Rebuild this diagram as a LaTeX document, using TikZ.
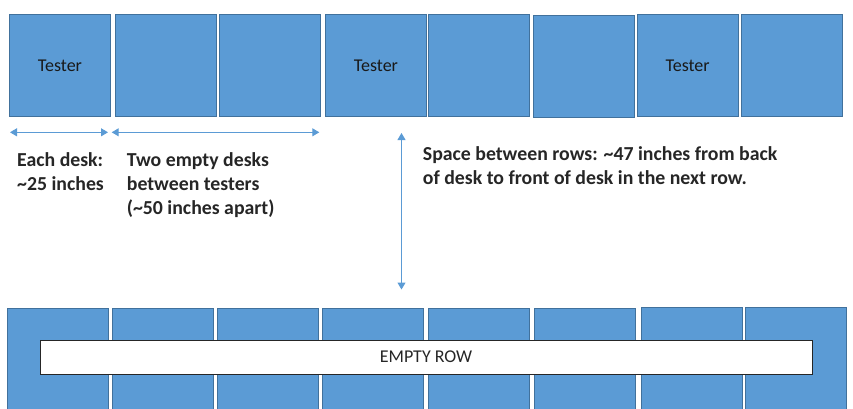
\documentclass[tikz,border=0pt]{standalone}
\usepackage{fontspec}
\setmainfont{Carlito}
\usetikzlibrary{arrows.meta}
\definecolor{deskfill}{HTML}{5B9BD5}
\definecolor{deskline}{HTML}{41719C}
\definecolor{arrowc}{HTML}{5B9BD5}
\definecolor{txt}{HTML}{262626}
\begin{document}
\begin{tikzpicture}[x=1pt,y=-1pt,
  desk/.style={draw=deskline, fill=deskfill, line width=0.9pt, minimum width=101pt, minimum height=102pt, inner sep=0pt, anchor=north west, font=\fontsize{18}{22}\selectfont, text=black!90},
  lowdesk/.style={desk, minimum height=110pt},
  label/.style={anchor=base west, align=left, inner sep=0pt, font=\fontsize{19.8}{24}\selectfont\bfseries, text=txt},
  dim/.style={draw=arrowc, line width=1pt, {Triangle[length=7pt,width=8pt]}-{Triangle[length=7pt,width=8pt]}}
]
\useasboundingbox (0,0) rectangle (853,408);
% top row
\node[desk] (t1) at (9,14) {Tester};
\node[desk] (t2) at (115,14) {};
\node[desk] (t3) at (219,14) {};
\node[desk] (t4) at (325,14) {Tester};
\node[desk] (t5) at (428.3,14) {};
\node[desk] (t6) at (532.7,15) {};
\node[desk] (t7) at (636.7,14) {Tester};
\node[desk] (t8) at (740.7,14) {};
% bottom row
\node[lowdesk] (b1) at (6.7,308.3) {};
\node[lowdesk] (b2) at (112.3,308.3) {};
\node[lowdesk] (b3) at (217.3,308.3) {};
\node[lowdesk] (b4) at (322.3,308.3) {};
\node[lowdesk] (b5) at (428.3,308.3) {};
\node[lowdesk] (b6) at (534,308.3) {};
\node[lowdesk] (b7) at (640.7,307.3) {};
\node[lowdesk] (b8) at (745.3,307.3) {};
% empty row bar
\node[draw=black!85, fill=white, line width=1pt, minimum width=772pt, minimum height=34pt, inner sep=0pt, anchor=north west, font=\fontsize{18}{22}\selectfont, text=txt] (bar) at (39.5,339.5) {EMPTY ROW};
% dimension arrows
\coordinate (a1s) at (10,132.3);
\coordinate (a1e) at (108,132.3);
\coordinate (a2s) at (111.7,132.3);
\coordinate (a2e) at (319.3,132.3);
\coordinate (v1s) at (401.5,133);
\coordinate (v1e) at (401.5,289.5);
\draw[dim] (a1s) -- (a1e);
\draw[dim] (a2s) -- (a2e);
\draw[dim] (v1s) -- (v1e);
% labels (base anchor = baseline of the last line)
\node[label] (l1) at (17,190.7) {Each desk:\\\textasciitilde25 inches};
\node[label] (l2) at (126.7,214.7) {Two empty desks\\between testers\\(\textasciitilde50 inches apart)};
\node[label] (l3) at (422.7,184) {Space between rows: \textasciitilde47 inches from back\\of desk to front of desk in the next row.};
\end{tikzpicture}
\end{document}
